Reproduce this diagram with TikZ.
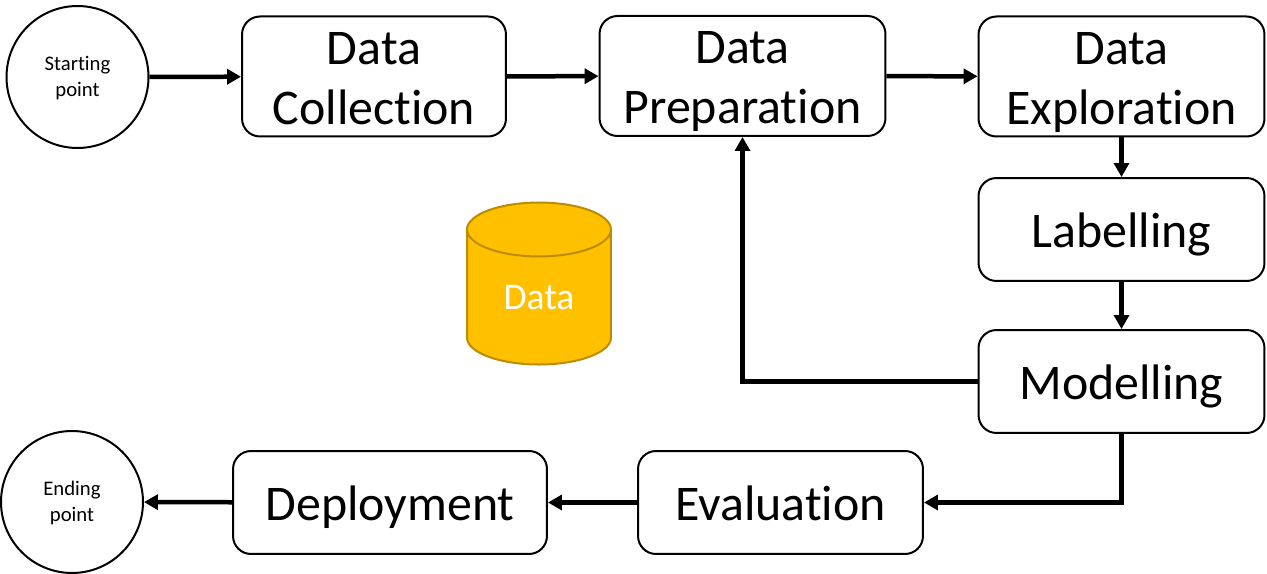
\documentclass[tikz,border=0pt]{standalone}
\usepackage{fontspec}
\setmainfont{Carlito}[RawFeature={-liga}]
\usetikzlibrary{shapes.geometric,arrows.meta}
\definecolor{storefill}{HTML}{FFC000}
\definecolor{storeline}{HTML}{BC8C00}
\tikzset{
  stagebox/.style={draw, line width=0.04cm, rounded corners=0.36cm, align=center, font=\fontsize{28.4}{34}\selectfont, minimum height=2.06cm, inner sep=0pt, execute at begin node={\rule{0pt}{27.6pt}}, execute at end node={\rule[-7pt]{0pt}{0pt}}},
  stagetwo/.style={stagebox, execute at begin node={\rule{0pt}{61.3pt}}},
  pointnode/.style={draw, line width=0.04cm, circle, minimum size=2.84cm, align=center, font=\fontsize{11.8}{14.3}\selectfont, inner sep=0pt, execute at begin node={\rule{0pt}{24.7pt}}, execute at end node={\rule[-3pt]{0pt}{0pt}}},
  flow/.style={line width=0.09cm, -{Triangle[length=0.28cm,width=0.3cm]}},
}
\begin{document}
\begin{tikzpicture}[x=0.02cm,y=-0.02cm]
  \useasboundingbox (0,0) rectangle (1267,574);
  % top row
  \node[pointnode] (start) at (77.5,77) {Starting\\point};
  \node[stagetwo, minimum width=5.28cm] (collection) at (374,76.5) {Data\\Collection};
  \node[stagetwo, minimum width=5.72cm] (preparation) at (742.5,76) {Data\\Preparation};
  \node[stagetwo, minimum width=5.72cm] (exploration) at (1121.5,76.5) {Data\\Exploration};
  % right column
  \node[stagebox, minimum width=5.72cm] (labelling) at (1121.5,229.5) {Labelling};
  \node[stagebox, minimum width=5.72cm] (modelling) at (1121.5,381.5) {Modelling};
  % bottom row
  \node[stagebox, minimum width=5.7cm] (evaluation) at (780.5,502.5) {Evaluation};
  \node[stagebox, minimum width=6.28cm] (deployment) at (390,502.5) {Deployment};
  \node[pointnode] (end) at (72,502) {Ending\\point};
  % store
  \node[cylinder, shape border rotate=90, aspect=0.76, draw=storeline, line width=0.04cm, cylinder uses custom fill, cylinder body fill=storefill, cylinder end fill=storefill, text=white, minimum width=2.88cm, minimum height=3.24cm, inner sep=0pt, font=\fontsize{21.4}{25}\selectfont] (store) at (539,297.5) {Data};
  % connectors
  \draw[flow] (start) -- (collection);
  \draw[flow] (collection) -- (preparation);
  \draw[flow] (preparation) -- (exploration);
  \draw[flow] (exploration) -- (labelling);
  \draw[flow] (labelling) -- (modelling);
  \draw[flow] (modelling.west) -| (preparation.south);
  \draw[flow] (modelling.south) |- (evaluation.east);
  \draw[flow] (evaluation) -- (deployment);
  \draw[flow] (deployment) -- (end);
\end{tikzpicture}
\end{document}
